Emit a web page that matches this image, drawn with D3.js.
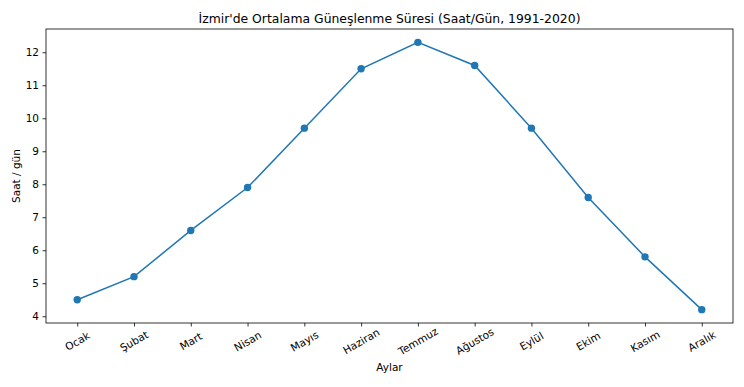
<!DOCTYPE html>
<html>
<head>
<meta charset="utf-8">
<script src="https://cdn.jsdelivr.net/npm/d3@7"></script>
<style>
  body { margin: 0; background: #fff; }
  svg { display: block; font-family: "DejaVu Sans", sans-serif; }
</style>
</head>
<body>
<div id="chart"></div>
<script>
const months = ['Ocak', 'Şubat', 'Mart', 'Nisan', 'Mayıs', 'Haziran', 'Temmuz', 'Ağustos', 'Eylül', 'Ekim', 'Kasım', 'Aralık'];
const sunHours = [4.5, 5.2, 6.6, 7.9, 9.7, 11.5, 12.3, 11.6, 9.7, 7.6, 5.8, 4.2];
const yTicks = [4, 5, 6, 7, 8, 9, 10, 11, 12];

const width = 744, height = 387;
const margin = { top: 29, right: 11, bottom: 64, left: 46 };
const w = width - margin.left - margin.right;
const h = height - margin.top - margin.bottom;
const tickFont = 10.5;

const svg = d3.select('#chart').append('svg')
  .attr('width', width)
  .attr('height', height);

const g = svg.append('g')
  .attr('transform', `translate(${margin.left},${margin.top})`);

// matplotlib-like 5% margins
const x = d3.scaleLinear()
  .domain([-0.55, months.length - 1 + 0.55])
  .range([0, w]);

const yMin = d3.min(sunHours), yMax = d3.max(sunHours);
const pad = (yMax - yMin) * 0.05;
const y = d3.scaleLinear()
  .domain([yMin - pad, yMax + pad])
  .range([h, 0]);

// x axis
const xAxis = g.append('g')
  .attr('transform', `translate(0,${h})`)
  .call(d3.axisBottom(x).tickValues(d3.range(months.length)).tickSize(3.5).tickFormat(''));
xAxis.select('.domain').remove();
xAxis.selectAll('line').attr('stroke', '#000').attr('stroke-width', 0.8);

g.selectAll('.xlab')
  .data(months)
  .enter().append('text')
  .attr('class', 'xlab')
  .attr('transform', (d, i) => `translate(${x(i)},${h + 18}) rotate(-30)`)
  .attr('text-anchor', 'middle')
  .attr('dominant-baseline', 'central')
  .attr('font-size', tickFont)
  .attr('fill', '#000')
  .text(d => d);

// y axis
const yAxis = g.append('g')
  .call(d3.axisLeft(y).tickValues(yTicks).tickSize(3.5).tickPadding(3.5));
yAxis.select('.domain').remove();
yAxis.selectAll('line').attr('stroke', '#000').attr('stroke-width', 0.8);
yAxis.selectAll('text').attr('font-size', tickFont).attr('fill', '#000').attr('font-family', '"DejaVu Sans", sans-serif');

// frame
g.append('rect')
  .attr('width', w)
  .attr('height', h)
  .attr('fill', 'none')
  .attr('stroke', '#000')
  .attr('stroke-width', 0.8);

// line
const line = d3.line()
  .x((d, i) => x(i))
  .y(d => y(d));

g.append('path')
  .datum(sunHours)
  .attr('fill', 'none')
  .attr('stroke', '#1f77b4')
  .attr('stroke-width', 1.5)
  .attr('d', line);

g.selectAll('.dot')
  .data(sunHours)
  .enter().append('circle')
  .attr('class', 'dot')
  .attr('cx', (d, i) => x(i))
  .attr('cy', d => y(d))
  .attr('r', 3.7)
  .attr('fill', '#1f77b4');

// title & labels
svg.append('text')
  .attr('x', margin.left + w / 2)
  .attr('y', 23)
  .attr('text-anchor', 'middle')
  .attr('font-size', 12.4)
  .text("İzmir'de Ortalama Güneşlenme Süresi (Saat/Gün, 1991-2020)");

svg.append('text')
  .attr('x', margin.left + w / 2)
  .attr('y', 371)
  .attr('text-anchor', 'middle')
  .attr('font-size', tickFont)
  .text('Aylar');

svg.append('text')
  .attr('transform', `translate(20,${margin.top + h / 2}) rotate(-90)`)
  .attr('text-anchor', 'middle')
  .attr('font-size', tickFont)
  .text('Saat / gün');
</script>
</body>
</html>
